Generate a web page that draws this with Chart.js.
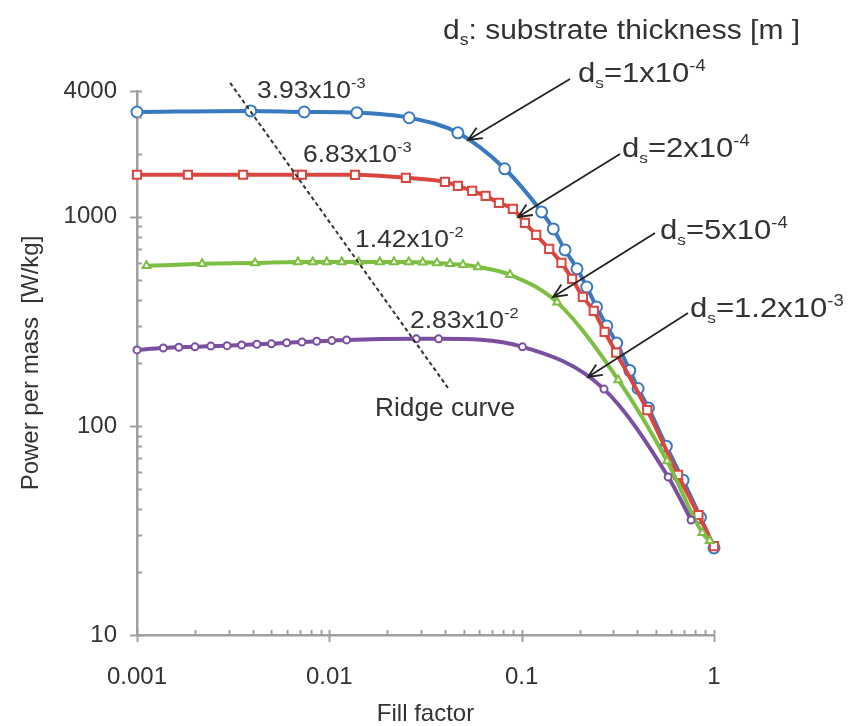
<!DOCTYPE html>
<html>
<head>
<meta charset="utf-8">
<script src="https://cdn.jsdelivr.net/npm/chart.js@4.4.1/dist/chart.umd.min.js"></script>
<style>
  html, body { margin: 0; padding: 0; background: #fff; }
</style>
</head>
<body>
<canvas id="chart" width="851" height="726"></canvas>
<script>
// values: fill factor (x) vs power per mass [W/kg] (y)
const blueX = [0.001, 0.0039, 0.0074, 0.0139, 0.026, 0.0466, 0.0816, 0.127, 0.146, 0.168, 0.194, 0.218, 0.245, 0.277, 0.312, 0.365, 0.403, 0.456, 0.565, 0.69, 0.85, 1.0];
const blueY = [3175, 3213, 3175, 3150, 2980, 2523, 1698, 1056, 876, 695, 564, 462, 371, 301, 249, 184, 151, 122, 80, 55, 36.5, 26.1];

const redX = [0.001, 0.00184, 0.00356, 0.0068, 0.0072, 0.0136, 0.025, 0.0399, 0.0466, 0.0553, 0.065, 0.0762, 0.09, 0.104, 0.119, 0.139, 0.161, 0.183, 0.208, 0.237, 0.27, 0.31, 0.45, 0.65, 0.83, 1.0];
const redY = [1590, 1590, 1590, 1590, 1590, 1589, 1537, 1470, 1407, 1331, 1260, 1166, 1092, 936, 820, 703, 602, 505, 414, 355, 282, 224, 119, 58.3, 37.5, 26.6];

const greenX = [0.00112, 0.00218, 0.00411, 0.00687, 0.0082, 0.0097, 0.0116, 0.0142, 0.0183, 0.0217, 0.0259, 0.0306, 0.0363, 0.0424, 0.0495, 0.0593, 0.087, 0.153, 0.318, 0.57, 0.87, 0.95];
const greenY = [583, 596, 602, 609, 609, 609, 609, 609, 609, 609, 608, 606, 602, 596, 590, 576, 528, 390, 166, 68, 30.8, 28.2];

const purpleX = [0.001, 0.00137, 0.00165, 0.002, 0.00242, 0.00294, 0.0035, 0.0042, 0.005, 0.006, 0.0072, 0.0086, 0.0103, 0.0123, 0.0283, 0.037, 0.101, 0.268, 0.578, 0.76];
const purpleY = [231, 236, 238, 239, 241, 242, 244, 246, 247, 250, 252, 254, 256, 258, 261, 261, 239, 150, 57, 35.5];

// ridge curve (dashed line through the peak of each curve)
const ridgeX = [0.00305, 0.0414];
const ridgeY = [4375, 152];

const xTicks = [0.001, 0.01, 0.1, 1];
const xTickLabels = ["0.001", "0.01", "0.1", "1"];
const yTicks = [10, 100, 1000, 4000];
const yTickLabels = ["10", "100", "1000", "4000"];

// substrate thickness of each series, and peak fill factor labels
const thickMant = ["1x10", "2x10", "5x10", "1.2x10"];
const thickExp = ["-4", "-4", "-4", "-3"];
const ridgeMant = ["3.93x10", "6.83x10", "1.42x10", "2.83x10"];
const ridgeExp = ["-3", "-3", "-2", "-2"];

const FONT = '"Liberation Sans", Arial, Helvetica, sans-serif';
const INK = "#333";
const AXIS = "#a0a0a0";

// where the annotations go (canvas pixels)
const thickPos = [[578, 82], [622, 157], [660, 239], [690, 317]];
const arrowPos = [
  [[570, 79], [468, 140]],
  [[620, 154], [518, 217]],
  [[655, 233], [553, 297]],
  [[688, 313], [588, 377]]
];
const ridgePos = [[257, 98], [303, 162], [355, 247], [410, 328]];

function pts(xs, ys) {
  return xs.map((x, i) => ({ x: x, y: ys[i] }));
}

function series(xs, ys, color, style, r, order) {
  return {
    data: pts(xs, ys),
    borderColor: color,
    borderWidth: 4,
    backgroundColor: "#fff",
    pointStyle: style,
    pointRadius: r,
    pointBorderWidth: 2,
    pointBorderColor: color,
    pointBackgroundColor: "#fff",
    cubicInterpolationMode: "monotone",
    clip: false,
    order: order
  };
}

// text with sub/superscripts, slightly stretched like the original
function drawRich(ctx, x, y, parts, sx) {
  ctx.save();
  ctx.translate(x, y);
  ctx.scale(sx, 1);
  ctx.fillStyle = INK;
  ctx.textAlign = "left";
  ctx.textBaseline = "alphabetic";
  let cx = 0;
  parts.forEach(p => {
    ctx.font = p[1] + "px " + FONT;
    ctx.fillText(p[0], cx, p[2] || 0);
    cx += ctx.measureText(p[0]).width;
  });
  ctx.restore();
}

function drawArrow(ctx, from, to) {
  const ang = Math.atan2(to[1] - from[1], to[0] - from[0]);
  const h = 15, w = 0.42;
  ctx.beginPath();
  ctx.moveTo(from[0], from[1]);
  ctx.lineTo(to[0], to[1]);
  ctx.moveTo(to[0] - h * Math.cos(ang - w), to[1] - h * Math.sin(ang - w));
  ctx.lineTo(to[0], to[1]);
  ctx.lineTo(to[0] - h * Math.cos(ang + w), to[1] - h * Math.sin(ang + w));
  ctx.stroke();
}

// tick marks: majors cross the axis, minors point inward
const axisTicks = {
  id: "axisTicks",
  afterDatasetsDraw(chart) {
    const { ctx, chartArea: a, scales: { x, y } } = chart;
    ctx.save();
    ctx.strokeStyle = AXIS;
    ctx.lineWidth = 2;
    ctx.beginPath();
    xTicks.forEach(v => {
      const px = Math.round(x.getPixelForValue(v)) + 0.5;
      ctx.moveTo(px, a.bottom + 7);
      ctx.lineTo(px, a.bottom - 5);
    });
    for (let e = -3; e < 0; e++) {
      for (let m = 2; m <= 9; m++) {
        const px = Math.round(x.getPixelForValue(m * Math.pow(10, e))) + 0.5;
        ctx.moveTo(px, a.bottom);
        ctx.lineTo(px, a.bottom - 5);
      }
    }
    yTicks.forEach(v => {
      const py = Math.round(y.getPixelForValue(v)) + 0.5;
      ctx.moveTo(a.left - 7, py);
      ctx.lineTo(a.left + 5, py);
    });
    for (let e = 1; e <= 3; e++) {
      for (let m = 2; m <= 9; m++) {
        const v = m * Math.pow(10, e);
        if (v >= 4000) continue;
        const py = Math.round(y.getPixelForValue(v)) + 0.5;
        ctx.moveTo(a.left, py);
        ctx.lineTo(a.left + 5, py);
      }
    }
    ctx.stroke();
    ctx.restore();
  },
  afterDraw(chart) {
    const ctx = chart.ctx;
    // heading above the series labels
    drawRich(ctx, 443, 39, [["d", 27], ["s", 16, 6], [": substrate thickness [m ]", 27]], 1.11);

    ctx.save();
    ctx.strokeStyle = "#222";
    ctx.lineWidth = 1.8;
    arrowPos.forEach(p => drawArrow(ctx, p[0], p[1]));
    ctx.restore();

    thickMant.forEach((t, i) => {
      const p = thickPos[i];
      drawRich(ctx, p[0], p[1], [["d", 27], ["s", 15, 6], ["=" + t, 27], [thickExp[i], 16, -11]], 1.15);
    });
    ridgeMant.forEach((t, i) => {
      const p = ridgePos[i];
      drawRich(ctx, p[0], p[1], [[t, 24], [ridgeExp[i], 15, -10]], 1.1);
    });
    drawRich(ctx, 375, 416, [["Ridge curve", 25]], 1.05);
  }
};

new Chart(document.getElementById("chart"), {
  type: "line",
  data: {
    datasets: [
      {
        data: pts(ridgeX, ridgeY),
        borderColor: "#333",
        borderWidth: 2,
        borderDash: [4, 3],
        pointRadius: 0,
        tension: 0,
        clip: false,
        order: 0
      },
      series(purpleX, purpleY, "#7A4F9F", "circle", 3.5, 1),
      series(greenX, greenY, "#7DBF42", "triangle", 4.5, 2),
      series(redX, redY, "#D9453F", "rect", 5.8, 3),
      series(blueX, blueY, "#3979C0", "circle", 5.5, 4)
    ]
  },
  options: {
    responsive: false,
    animation: false,
    layout: { padding: { left: 0, top: 91, right: 137, bottom: 0 } },
    plugins: {
      legend: { display: false },
      tooltip: { enabled: false }
    },
    scales: {
      x: {
        type: "logarithmic",
        min: 0.001,
        max: 1,
        grid: { display: false, drawTicks: false },
        border: { display: true, color: AXIS, width: 2.5 },
        afterBuildTicks: s => { s.ticks = xTicks.map(v => ({ value: v })); },
        afterFit: s => { s.height = 91; },
        ticks: {
          autoSkip: false,
          maxRotation: 0,
          padding: 28,
          color: INK,
          font: { family: FONT, size: 24 },
          callback: v => xTickLabels[xTicks.indexOf(v)]
        },
        title: {
          display: true,
          text: "Fill factor",
          color: INK,
          font: { family: FONT, size: 24, lineHeight: 1 },
          padding: { top: 0, bottom: 0 }
        }
      },
      y: {
        type: "logarithmic",
        min: 10,
        max: 4000,
        grid: { display: false, drawTicks: false },
        border: { display: true, color: AXIS, width: 2.5 },
        afterBuildTicks: s => { s.ticks = yTicks.map(v => ({ value: v })); },
        afterFit: s => { s.width = 137; },
        ticks: {
          autoSkip: false,
          padding: 20,
          color: INK,
          font: { family: FONT, size: 24 },
          callback: v => yTickLabels[yTicks.indexOf(v)]
        },
        title: {
          display: true,
          text: "Power per mass  [W/kg]",
          color: INK,
          font: { family: FONT, size: 24, lineHeight: 1 },
          padding: { top: 19, bottom: 0 }
        }
      }
    }
  },
  plugins: [axisTicks]
});
</script>
</body>
</html>
